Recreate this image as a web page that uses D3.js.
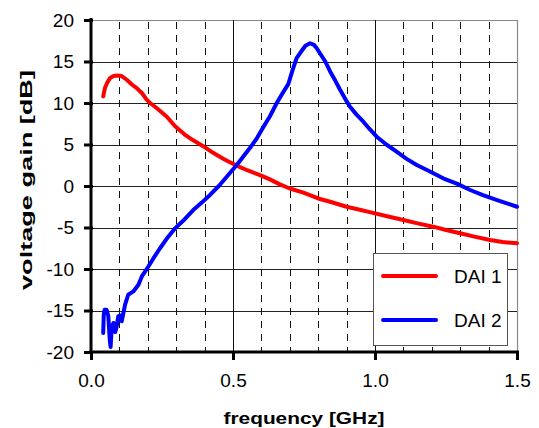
<!DOCTYPE html>
<html>
<head>
<meta charset="utf-8">
<script src="https://cdn.jsdelivr.net/npm/d3@7"></script>
<style>
  html, body { margin: 0; padding: 0; background: #fff; }
  svg { display: block; font-family: "Liberation Sans", Arial, sans-serif; }
</style>
</head>
<body>
<svg id="chart" width="539" height="428"></svg>
<script>
// Measured gain of the two amplifiers versus frequency
const dai1Freq = [0.043, 0.049, 0.058, 0.067, 0.079, 0.095, 0.108, 0.126, 0.145, 0.161, 0.179, 0.196, 0.208, 0.231, 0.267, 0.296, 0.33, 0.36, 0.395, 0.43, 0.47, 0.507, 0.55, 0.595, 0.63, 0.665, 0.70, 0.748, 0.80, 0.842, 0.90, 0.95, 1.0, 1.05, 1.1, 1.15, 1.205, 1.25, 1.30, 1.35, 1.405, 1.45, 1.5];
const dai1Gain = [10.8, 11.8, 12.5, 13.0, 13.25, 13.3, 13.25, 12.8, 12.2, 11.8, 11.2, 10.4, 10.0, 9.4, 8.35, 7.2, 6.2, 5.5, 4.8, 4.0, 3.2, 2.55, 1.9, 1.3, 0.8, 0.2, -0.3, -0.8, -1.5, -1.9, -2.5, -2.9, -3.3, -3.7, -4.1, -4.5, -4.9, -5.3, -5.7, -6.1, -6.5, -6.75, -6.9];

const dai2Freq = [0.043, 0.045, 0.048, 0.055, 0.061, 0.066, 0.069, 0.073, 0.079, 0.085, 0.090, 0.096, 0.102, 0.108, 0.114, 0.120, 0.131, 0.149, 0.167, 0.179, 0.202, 0.22, 0.243, 0.27, 0.296, 0.33, 0.36, 0.39, 0.419, 0.45, 0.478, 0.513, 0.535, 0.56, 0.585, 0.607, 0.63, 0.654, 0.675, 0.695, 0.71, 0.724, 0.74, 0.755, 0.771, 0.785, 0.795, 0.806, 0.825, 0.842, 0.86, 0.877, 0.895, 0.912, 0.935, 0.959, 0.98, 1.006, 1.04, 1.076, 1.11, 1.147, 1.19, 1.24, 1.29, 1.335, 1.38, 1.43, 1.47, 1.5];
const dai2Gain = [-17.7, -15.5, -14.9, -14.9, -15.7, -18.5, -19.4, -17.0, -16.5, -17.6, -17.0, -15.7, -15.6, -16.3, -15.3, -14.3, -13.1, -12.7, -11.9, -10.9, -9.7, -8.7, -7.5, -6.2, -5.1, -4.0, -2.9, -2.0, -1.08, 0.0, 1.12, 2.53, 3.5, 4.6, 5.8, 7.1, 8.4, 10.0, 11.2, 12.3, 14.0, 15.4, 16.2, 16.9, 17.2, 17.0, 16.6, 16.0, 15.0, 13.8, 12.7, 11.6, 10.5, 9.55, 8.6, 7.75, 6.9, 5.94, 5.0, 4.13, 3.3, 2.53, 1.8, 0.93, 0.25, -0.48, -1.1, -1.69, -2.15, -2.5];

const xTicks = [0, 0.5, 1.0, 1.5];
const xMinor = [0.1, 0.2, 0.3, 0.4, 0.6, 0.7, 0.8, 0.9, 1.1, 1.2, 1.3, 1.4];
const yTicks = [-20, -15, -10, -5, 0, 5, 10, 15, 20];

const seriesNames = ["DAI 1", "DAI 2"];
const seriesColors = ["#ff0000", "#0000ff"];

const svg = d3.select("#chart");
const plotL = 91, plotR = 517, plotT = 20, plotB = 352;

const x = d3.scaleLinear().domain([0, 1.5]).range([plotL, plotR]);
const y = d3.scaleLinear().domain([-20, 20]).range([plotB, plotT]);

// plot area border (top and right)
svg.append("path")
  .attr("d", `M${plotL},${plotT + 0.5}H${plotR + 0.5}V${plotB}`)
  .attr("fill", "none").attr("stroke", "#888").attr("stroke-width", 1.2);

// horizontal gridlines
svg.append("g").selectAll("line")
  .data(yTicks.filter(v => v > -20 && v < 20))
  .join("line")
  .attr("x1", plotL).attr("x2", plotR)
  .attr("y1", d => Math.round(y(d)) + 0.5).attr("y2", d => Math.round(y(d)) + 0.5)
  .attr("stroke", "#222").attr("stroke-width", 1);

// minor vertical gridlines (dashed)
svg.append("g").selectAll("line")
  .data(xMinor)
  .join("line")
  .attr("x1", d => Math.round(x(d)) + 0.5).attr("x2", d => Math.round(x(d)) + 0.5)
  .attr("y1", plotT + 2).attr("y2", plotB)
  .attr("stroke", "#111").attr("stroke-width", 1)
  .attr("stroke-dasharray", "7,6");

// major vertical gridlines
svg.append("g").selectAll("line")
  .data([0.5, 1.0])
  .join("line")
  .attr("x1", d => Math.round(x(d)) + 0.5).attr("x2", d => Math.round(x(d)) + 0.5)
  .attr("y1", plotT).attr("y2", plotB)
  .attr("stroke", "#111").attr("stroke-width", 1);

// series lines
const line = d3.line().x(d => x(d[0])).y(d => y(d[1]));
const series = [
  d3.zip(dai1Freq, dai1Gain),
  d3.zip(dai2Freq, dai2Gain)
];
series.forEach((pts, i) => {
  svg.append("path")
    .datum(pts)
    .attr("d", line)
    .attr("fill", "none")
    .attr("stroke", seriesColors[i])
    .attr("stroke-width", 4)
    .attr("stroke-linejoin", "round")
    .attr("stroke-linecap", "round");
});

// y axis
const yAxis = svg.append("g")
  .attr("transform", `translate(${plotL},0)`)
  .call(d3.axisLeft(y).tickValues(yTicks).tickFormat(d3.format("d")).tickSize(7).tickPadding(10));
yAxis.select(".domain").attr("stroke", "#000").attr("stroke-width", 3)
  .attr("d", `M0,${plotT - 2}V${plotB + 2}`);
yAxis.selectAll(".tick line").attr("stroke", "#000").attr("stroke-width", 3).attr("x2", -7).attr("x1", 2);
yAxis.selectAll(".tick text").attr("font-size", 19).attr("fill", "#000")
  .attr("font-family", "'Liberation Sans', Arial, sans-serif")
  .text(d => d < 0 ? "-" + Math.abs(d) : d);

// x axis
const xAxis = svg.append("g")
  .attr("transform", `translate(0,${plotB})`)
  .call(d3.axisBottom(x).tickValues(xTicks).tickFormat(d3.format(".1f")).tickSize(8).tickPadding(14));
xAxis.select(".domain").attr("stroke", "#000").attr("stroke-width", 3)
  .attr("d", `M${plotL - 2},0H${plotR + 2}`);
xAxis.selectAll(".tick line").attr("stroke", "#000").attr("stroke-width", 3).attr("y1", 0);
xAxis.selectAll(".tick text").attr("font-size", 19).attr("fill", "#000")
  .attr("font-family", "'Liberation Sans', Arial, sans-serif");

// axis titles
svg.append("text")
  .attr("x", 304).attr("y", 424)
  .attr("text-anchor", "middle")
  .attr("font-size", 17).attr("font-weight", "bold")
  .attr("textLength", 161).attr("lengthAdjust", "spacingAndGlyphs")
  .text("frequency [GHz]");

svg.append("text")
  .attr("transform", "translate(32,180) rotate(-90)")
  .attr("text-anchor", "middle")
  .attr("font-size", 17).attr("font-weight", "bold")
  .attr("textLength", 220).attr("lengthAdjust", "spacingAndGlyphs")
  .text("voltage gain [dB]");

// legend
const legend = svg.append("g");
legend.append("rect")
  .attr("x", 373.5).attr("y", 253.5).attr("width", 134).attr("height", 92)
  .attr("fill", "#fff").attr("stroke", "#555").attr("stroke-width", 1);
seriesNames.forEach((name, i) => {
  const ly = 276 + i * 44;
  legend.append("line")
    .attr("x1", 383).attr("x2", 436).attr("y1", ly).attr("y2", ly)
    .attr("stroke", seriesColors[i]).attr("stroke-width", 4).attr("stroke-linecap", "round");
  legend.append("text")
    .attr("x", 454).attr("y", ly + 6.5)
    .attr("font-size", 19).attr("fill", "#000")
    .text(name);
});
</script>
</body>
</html>
